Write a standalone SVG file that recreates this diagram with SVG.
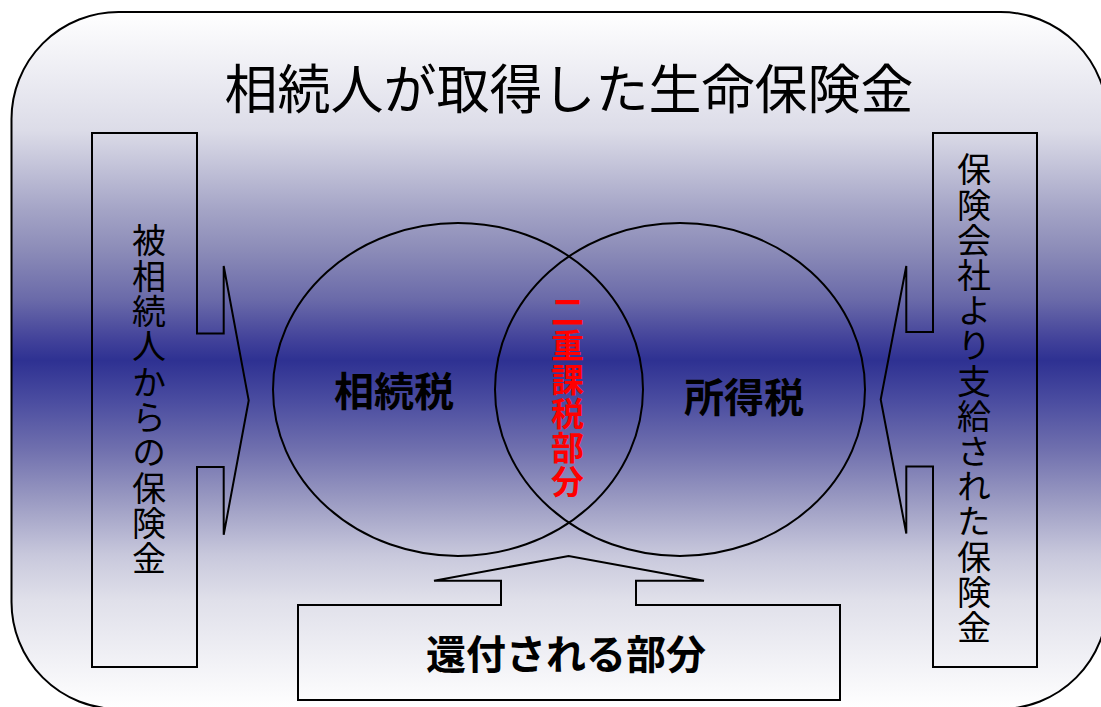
<svg xmlns="http://www.w3.org/2000/svg" width="1101" height="707" viewBox="0 0 1101 707">
<defs>
<linearGradient id="bg" x1="0" y1="12" x2="0" y2="709" gradientUnits="userSpaceOnUse">
<stop offset="0" stop-color="#ffffff"/>
<stop offset="0.17" stop-color="#dcdce8"/>
<stop offset="0.284" stop-color="#a4a4c6"/>
<stop offset="0.341" stop-color="#8c8cb8"/>
<stop offset="0.413" stop-color="#6a6aa9"/>
<stop offset="0.47" stop-color="#42429a"/>
<stop offset="0.5" stop-color="#2e3192"/>
<stop offset="0.557" stop-color="#4a4ca0"/>
<stop offset="0.628" stop-color="#7070ae"/>
<stop offset="0.70" stop-color="#9a9ac2"/>
<stop offset="0.779" stop-color="#c8c8dc"/>
<stop offset="0.844" stop-color="#e0e0ea"/>
<stop offset="1" stop-color="#ffffff"/>
</linearGradient>
</defs>
<style>
.ln{fill:none;stroke:#000;stroke-width:2;stroke-linejoin:miter}
.t{font-family:"Noto Sans CJK JP","Noto Sans CJK SC",sans-serif;fill:#000}
.vert{writing-mode:vertical-rl;text-orientation:upright;text-anchor:start}
.side{font-size:34px}
.bold{font-weight:bold}
.red{fill:#ff0000}
</style>
<g id="background">
<rect x="11.5" y="12" width="1096" height="697" rx="107" ry="107" fill="url(#bg)" stroke="#000" stroke-width="2"/>
</g>
<g id="title">
<text class="t" x="569" y="108.5" font-size="53" text-anchor="middle">相続人が取得した生命保険金</text>
</g>
<g id="left-box">
<path class="ln" d="M92,133 H197 V333.5 H223.7 V266 L248.7,400.4 L223.7,534.7 V467 H197 V667 H92 Z"/>
<text class="t side vert" x="149" y="223.5" letter-spacing="1.3">被相続人からの保険金</text>
</g>
<g id="right-box">
<path class="ln" d="M1037,133 H933 V332 H906.3 V266 L880.7,399.5 L906.3,533.5 V466.5 H933 V667 H1037 Z"/>
<text class="t side vert" x="974" y="152.5" letter-spacing="1.2">保険会社より支給された保険金</text>
</g>
<g id="inheritance-tax">
<ellipse class="ln" cx="458" cy="389.5" rx="185" ry="166.5"/>
<text class="t bold" x="394" y="406" font-size="40" text-anchor="middle">相続税</text>
</g>
<g id="income-tax">
<ellipse class="ln" cx="680" cy="389.5" rx="185" ry="166.5"/>
<text class="t bold" x="744" y="412" font-size="40" text-anchor="middle">所得税</text>
</g>
<g id="double-tax">
<text class="t bold red vert" x="567.5" y="294.5" font-size="33" letter-spacing="1">二重課税部分</text>
</g>
<g id="refund-box">
<path class="ln" d="M298,605 H501 V580.7 H434 L568.6,556 L704,580.7 H636 V605 H840 V700 H298 Z"/>
<text class="t bold" x="566" y="669" font-size="40" text-anchor="middle">還付される部分</text>
</g>
<g id="connectors"/>
</svg>
